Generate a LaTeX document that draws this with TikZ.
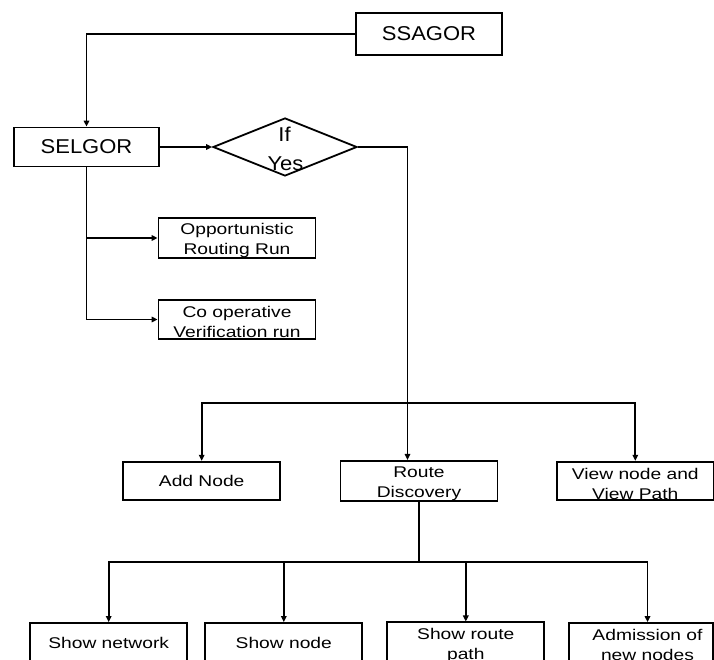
\documentclass[tikz,border=0pt]{standalone}
\usepackage{fontspec}
\setmainfont{Liberation Sans}
\newfontfamily\bigfnt[FakeStretch=1.1]{Liberation Sans}
\newfontfamily\smallfnt[FakeStretch=1.24]{Liberation Sans}
\newcommand{\fstrut}{\rule{0pt}{17pt}}
\usetikzlibrary{shapes.geometric,arrows.meta}
\begin{document}
\begin{tikzpicture}[x=1pt,y=-1pt,
  line/.style={line width=1.8pt, draw=black},
  arr/.style={line, -{Triangle[length=6pt,width=5.5pt]}},
  bigtxt/.style={inner sep=0pt, font=\bigfnt\fontsize{20}{28}\selectfont},
  bigbox/.style={draw, line width=1.8pt, rectangle, inner sep=0pt, font=\bigfnt\fontsize{20}{26}\selectfont},
  smalltxt/.style={inner sep=0pt, align=center, font=\smallfnt\fontsize{15.5}{20}\selectfont},
  smallbox/.style={draw, line width=1.8pt, rectangle, inner sep=0pt, align=center,
    minimum width=157pt, minimum height=38.5pt, font=\smallfnt\fontsize{15.5}{20}\selectfont},
  decbox/.style={diamond, draw, line width=1.8pt, inner sep=0pt}
]
\clip (0,0) rectangle (714,660);
\fill[white] (0,0) rectangle (714,660);

% top row
\node[bigbox, minimum width=146pt, minimum height=42pt] (ssagor) at (429,34) {SSAGOR};
\node[bigbox, minimum width=145pt, minimum height=39pt] (selgor) at (86.5,147) {SELGOR};
\node[decbox, minimum width=144pt, minimum height=58pt] (dec) at (285,147) {};
\node[bigtxt, anchor=base] (ift) at (284.5,142) {If};
\node[bigtxt, anchor=base] (yest) at (285.5,171) {Yes};

% SELGOR branches
\node[smallbox, minimum height=39pt] (opp) at (237,238) {\fstrut Opportunistic\\Routing Run};
\node[smallbox, minimum height=39pt] (coop) at (237,319.5) {\fstrut Co operative\\Verification run};

% second row
\node[smallbox] (addn) at (201.7,481) {Add Node};
\node[smallbox] (routed) at (419,481) {\fstrut Route\\Discovery};
\node[smallbox] (viewn) at (635.3,481) {\fstrut View node and\\View Path};

% third row
\node[smallbox, minimum height=39pt] (shownet) at (108.7,642.5) {Show network};
\node[smallbox, minimum height=39pt] (shownode) at (283.8,642.5) {Show node};
\node[smallbox, minimum height=39pt] (showroute) at (465.8,642.5) {\fstrut Show route\\path};
\node[smallbox, minimum height=39pt, minimum width=144pt] (adm) at (641,642.5) {};
\node[smalltxt] (admt) at (647.5,642.5) {\fstrut Admission of\\new nodes};

% junctions
\coordinate (j1) at (407.5,403);
\coordinate (j2) at (419,562);

% connectors
\draw[arr] (ssagor.west) -| (selgor.north);
\draw[arr] (selgor.east) -- (dec.west);
\draw[arr] (selgor.south) -- (selgor.south |- coop.west) -- (coop.west);
\draw[arr] (selgor.south |- opp.west) -- (opp.west);
\draw[line] (dec.east) -| (j1);
\draw[arr] (j1) -- (j1 |- routed.north);
\draw[arr] (j1) -| (addn.north);
\draw[arr] (j1) -| (viewn.north);
\draw[line] (routed.south) -- (j2);
\draw[arr] (j2) -| (shownet.north);
\draw[arr] (j2) -| (shownode.north);
\draw[arr] (j2) -| (showroute.north);
\draw[arr] (j2) -| (admt |- adm.north);
\end{tikzpicture}
\end{document}
